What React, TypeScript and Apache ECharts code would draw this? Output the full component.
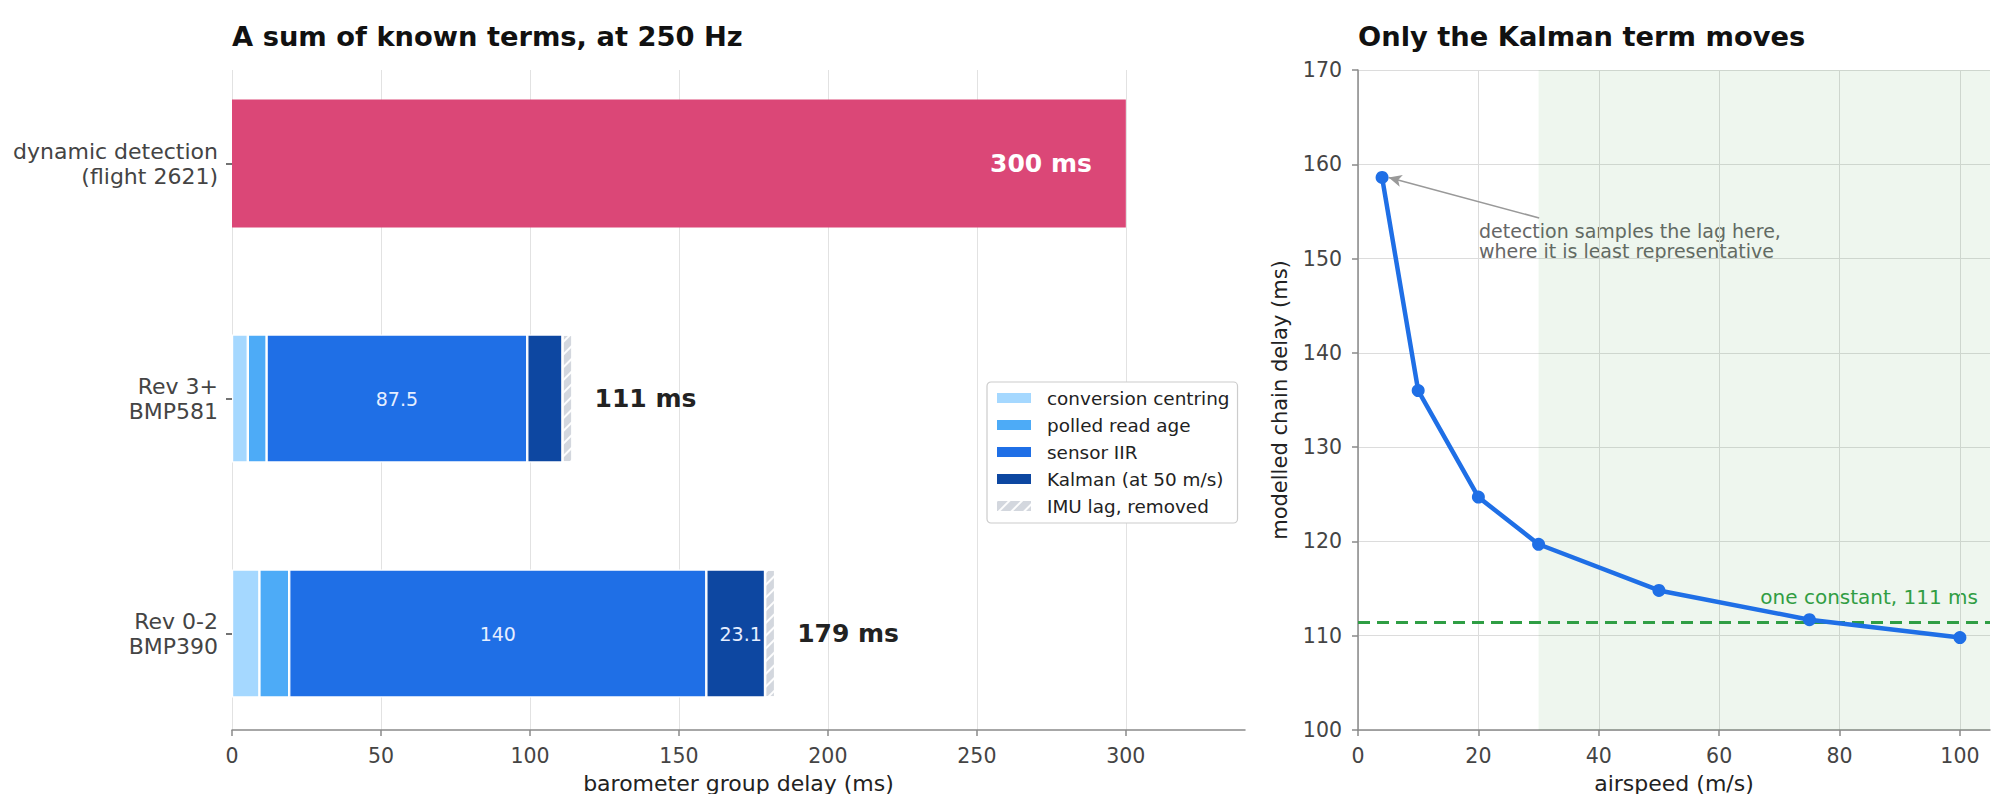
import React, { useEffect, useRef } from "react";
import * as echarts from "echarts";

// ---- left panel data ----
const categories = ["dynamic detection\n(flight 2621)", "Rev 3+\nBMP581", "Rev 0-2\nBMP390"];
const dynamicDetection = [300, "-", "-"];
const dynamicLabel = ["300 ms", "", ""];
const conversionCentring = ["-", 5.3, 9.2];
const polledReadAge = ["-", 6.3, 10.0];
const sensorIIR = ["-", 87.5, 140];
const kalmanNet = ["-", 11.8, 19.7];
const kalmanLabel = ["", "", "23.1"];
const imuLag = ["-", 3.4, 3.4];
const chainTotals = ["", "111 ms", "179 ms"];
const delayTicks = [0, 50, 100, 150, 200, 250, 300];

// ---- right panel data ----
const airspeed = [4, 10, 20, 30, 50, 75, 100];
const chainDelay = [158.6, 136.0, 124.7, 119.7, 114.8, 111.7, 109.8];
const constantDelay = 111.4;
const representativeZone = [30, 105];
const arrowFrom = [30.1, 154.3];
const arrowTo = [5.1, 158.6];
const speedTicks = [0, 20, 40, 60, 80, 100];

const FONT = "DejaVu Sans";
const AXIS_GREY = "#8a8a8a";
const GRID_GREY = "#e2e2e2";
const TICK_TEXT = "#444";

export default function App() {
  const ref = useRef<HTMLDivElement>(null);

  useEffect(() => {
    if (!ref.current) return;
    const chart = echarts.init(ref.current, null, { renderer: "svg" });

    const segStyle = { borderColor: "#ffffff", borderWidth: 1.2 };

    const option: any = {
      animation: false,
      backgroundColor: "#ffffff",
      textStyle: { fontFamily: FONT },
      title: [
        {
          text: "A sum of known terms, at 250 Hz",
          left: 232,
          top: 20,
          padding: 0,
          textStyle: { fontFamily: FONT, fontSize: 27.3, fontWeight: "bold", color: "#111", lineHeight: 32 },
        },
        {
          text: "Only the Kalman term moves",
          left: 1358,
          top: 20,
          padding: 0,
          textStyle: { fontFamily: FONT, fontSize: 27.3, fontWeight: "bold", color: "#111", lineHeight: 32 },
        },
      ],
      legend: {
        data: ["conversion centring", "polled read age", "sensor IIR", "Kalman (at 50 m/s)", "IMU lag, removed"],
        orient: "vertical",
        left: 987,
        top: 382,
        icon: "rect",
        itemWidth: 36,
        itemHeight: 12,
        itemGap: 7,
        padding: [6, 8, 7, 8],
        borderColor: "#cccccc",
        borderWidth: 1.2,
        borderRadius: 4,
        backgroundColor: "#ffffff",
        textStyle: { fontFamily: FONT, fontSize: 18.4, color: "#222", lineHeight: 20, padding: [0, 0, 0, 10] },
      },
      grid: [
        { left: 232, width: 1013, top: 46, height: 705, outerBoundsMode: "none", containLabel: false },
        { left: 232, width: 1013, top: 70, height: 660, outerBoundsMode: "none", containLabel: false },
        { left: 1358, width: 632, top: 70, height: 660, outerBoundsMode: "none", containLabel: false },
      ],
      xAxis: [
        { gridIndex: 0, type: "value", min: 0, max: 340, show: false },
        {
          gridIndex: 1,
          type: "value",
          min: 0,
          max: 340,
          interval: 50,
          name: "barometer group delay (ms)",
          nameLocation: "middle",
          nameGap: 42,
          nameTextStyle: { fontFamily: FONT, fontSize: 22, color: "#222" },
          axisLine: { show: true, lineStyle: { color: AXIS_GREY, width: 1.5 } },
          axisTick: { show: true, length: 6, lineStyle: { color: AXIS_GREY, width: 1.5 }, customValues: delayTicks },
          axisLabel: { fontFamily: FONT, fontSize: 20.5, color: TICK_TEXT, margin: 15, customValues: delayTicks },
          splitLine: { show: true, lineStyle: { color: GRID_GREY, width: 1 } },
        },
        {
          gridIndex: 2,
          type: "value",
          min: 0,
          max: 105,
          interval: 20,
          name: "airspeed (m/s)",
          nameLocation: "middle",
          nameGap: 42,
          nameTextStyle: { fontFamily: FONT, fontSize: 22, color: "#222" },
          axisLine: { show: true, lineStyle: { color: AXIS_GREY, width: 1.5 } },
          axisTick: { show: true, length: 6, lineStyle: { color: AXIS_GREY, width: 1.5 }, customValues: speedTicks },
          axisLabel: { fontFamily: FONT, fontSize: 20.5, color: TICK_TEXT, margin: 15, customValues: speedTicks },
          splitLine: { show: true, lineStyle: { color: "#dcdcdc", width: 1 } },
        },
      ],
      yAxis: [
        {
          gridIndex: 0,
          type: "category",
          data: categories,
          inverse: true,
          axisLine: { show: false },
          axisTick: { show: true, alignWithLabel: true, length: 6, lineStyle: { color: "#444", width: 1.5 } },
          axisLabel: { fontFamily: FONT, fontSize: 22, color: TICK_TEXT, lineHeight: 25, margin: 14, align: "right" },
          splitLine: { show: false },
        },
        { gridIndex: 1, type: "value", show: false, min: 0, max: 1 },
        {
          gridIndex: 2,
          type: "value",
          min: 100,
          max: 170,
          interval: 10,
          name: "modelled chain delay (ms)",
          nameLocation: "middle",
          nameGap: 68,
          nameTextStyle: { fontFamily: FONT, fontSize: 21, color: "#222" },
          axisLine: { show: true, lineStyle: { color: AXIS_GREY, width: 1.5 } },
          axisTick: { show: true, length: 6, lineStyle: { color: AXIS_GREY, width: 1.5 } },
          axisLabel: { fontFamily: FONT, fontSize: 20.5, color: TICK_TEXT, margin: 16 },
          splitLine: { show: true, lineStyle: { color: "#dcdcdc", width: 1 } },
        },
      ],
      series: [
        {
          name: "dynamic detection",
          type: "bar",
          stack: "total",
          xAxisIndex: 0,
          yAxisIndex: 0,
          barWidth: 128,
          data: dynamicDetection,
          itemStyle: { color: "#db4777" },
          label: {
            show: true,
            position: "insideRight",
            distance: 34,
            formatter: (p: any) => dynamicLabel[p.dataIndex],
            fontFamily: FONT,
            fontSize: 25,
            fontWeight: "bold",
            color: "#ffffff",
          },
        },
        {
          name: "conversion centring",
          type: "bar",
          stack: "total",
          xAxisIndex: 0,
          yAxisIndex: 0,
          barWidth: 128,
          data: conversionCentring,
          itemStyle: { color: "#a5d8ff", ...segStyle },
        },
        {
          name: "polled read age",
          type: "bar",
          stack: "total",
          xAxisIndex: 0,
          yAxisIndex: 0,
          barWidth: 128,
          data: polledReadAge,
          itemStyle: { color: "#4dabf7", ...segStyle },
        },
        {
          name: "sensor IIR",
          type: "bar",
          stack: "total",
          xAxisIndex: 0,
          yAxisIndex: 0,
          barWidth: 128,
          data: sensorIIR,
          itemStyle: { color: "#1f6fe6", ...segStyle },
          label: {
            show: true,
            position: "inside",
            formatter: (p: any) => String(p.value),
            fontFamily: FONT,
            fontSize: 19,
            color: "#e6eeff",
          },
        },
        {
          name: "Kalman (at 50 m/s)",
          type: "bar",
          stack: "total",
          xAxisIndex: 0,
          yAxisIndex: 0,
          barWidth: 128,
          data: kalmanNet.map((v, i) =>
            kalmanLabel[i]
              ? { value: v, label: { show: true, formatter: kalmanLabel[i], offset: [5, 0] } }
              : v
          ),
          itemStyle: { color: "#0d47a1", ...segStyle },
          label: { show: false, position: "inside", fontFamily: FONT, fontSize: 19, color: "#e6eeff" },
        },
        {
          name: "IMU lag, removed",
          type: "bar",
          stack: "total",
          xAxisIndex: 0,
          yAxisIndex: 0,
          barWidth: 128,
          data: imuLag,
          itemStyle: {
            color: "#d3d7de",
            ...segStyle,
            decal: {
              symbol: "rect",
              symbolSize: 1,
              color: "rgba(255,255,255,0.95)",
              dashArrayX: [1, 0],
              dashArrayY: [2, 7],
              rotation: -Math.PI / 4,
            },
          },
          label: {
            show: true,
            position: "right",
            distance: 22,
            formatter: (p: any) => chainTotals[p.dataIndex],
            fontFamily: FONT,
            fontSize: 25,
            fontWeight: "bold",
            color: "#222",
          },
        },
        {
          name: "modelled chain delay",
          type: "line",
          xAxisIndex: 2,
          yAxisIndex: 2,
          data: airspeed.map((x, i) => [x, chainDelay[i]]),
          symbol: "circle",
          symbolSize: 13,
          showSymbol: true,
          lineStyle: { color: "#1f6fe6", width: 4.5 },
          itemStyle: { color: "#1f6fe6" },
          z: 5,
          markArea: {
            silent: true,
            itemStyle: { color: "rgba(70,160,70,0.09)" },
            data: [[{ xAxis: representativeZone[0] }, { xAxis: representativeZone[1] }]],
          },
          markLine: {
            silent: true,
            symbol: ["none", "none"],
            label: { show: false },
            data: [
              { yAxis: constantDelay, lineStyle: { color: "#2f9e44", type: [12, 7], width: 3 } },
              [
                { coord: arrowFrom, lineStyle: { color: "#999999", width: 1.6, type: "solid" } },
                { coord: arrowTo, symbol: "arrow", symbolSize: [9, 13] },
              ],
            ],
          },
        },
      ],
      graphic: [
        {
          type: "text",
          x: 1479,
          y: 221,
          style: {
            text: "detection samples the lag here,\nwhere it is least representative",
            fontFamily: FONT,
            fontSize: 19,
            lineHeight: 20,
            fill: "#666666",
            verticalAlign: "top",
            align: "left",
          },
        },
        {
          type: "text",
          x: 1978,
          y: 597,
          style: {
            text: "one constant, 111 ms",
            fontFamily: FONT,
            fontSize: 20,
            fill: "#2f9e44",
            verticalAlign: "middle",
            align: "right",
          },
        },
      ],
    };

    chart.setOption(option);
    return () => chart.dispose();
  }, []);

  return (
    <div
      ref={ref}
      style={{ position: "fixed", left: 0, top: 0, width: 2000, height: 794, background: "#fff" }}
    />
  );
}
